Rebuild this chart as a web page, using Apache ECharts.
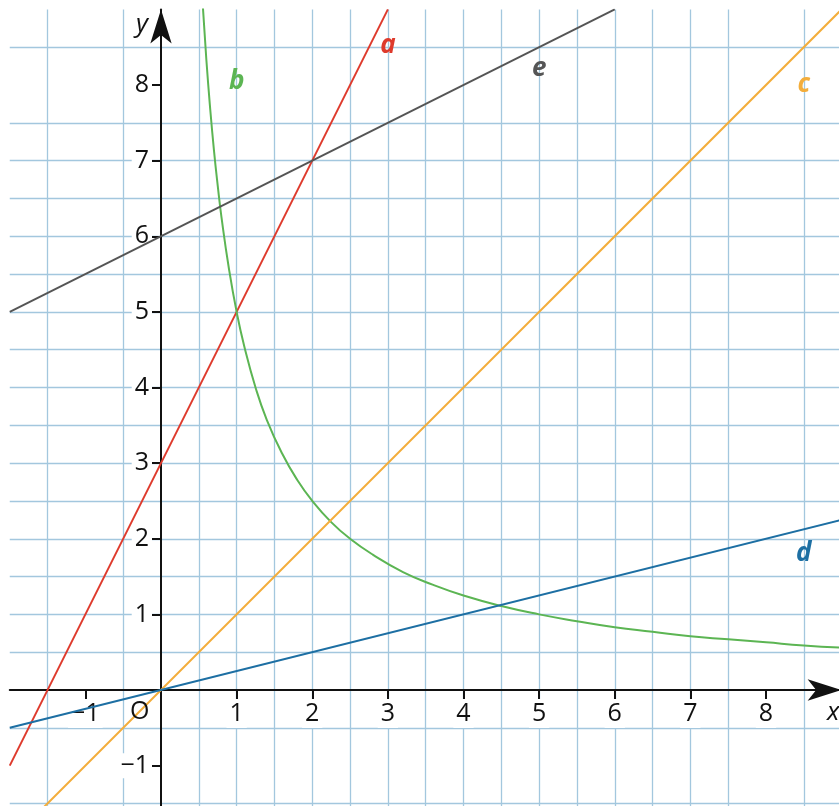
<!DOCTYPE html>
<html>
<head>
    <meta charset="utf-8">
    <title>Graphs a-e</title>
    <script src="https://cdn.jsdelivr.net/npm/echarts@6/dist/echarts.min.js"></script>
    <style>
        html, body { margin: 0; padding: 0; background: #fff; }
        #chart { width: 839px; height: 806px; }
    </style>
</head>
<body>
    <div id="chart"></div>
    <script>
        // values
        var xTicks = [-1, 1, 2, 3, 4, 5, 6, 7, 8];
        var yTicks = [-1, 1, 2, 3, 4, 5, 6, 7, 8];
        var lineA = [[-2, -1], [3, 9]];
        var lineC = [[-2, -2], [9, 9]];
        var lineD = [[-2, -0.5], [9, 2.25]];
        var lineE = [[-2, 5], [6, 9]];
        var curveB = [[0.55, 9.09], [0.6, 8.33], [0.65, 7.69], [0.7, 7.14], [0.75, 6.67], [0.8, 6.25],
                      [0.9, 5.56], [1, 5], [1.1, 4.55], [1.25, 4], [1.4, 3.57], [1.6, 3.13], [1.8, 2.78],
                      [2, 2.5], [2.25, 2.22], [2.5, 2], [2.8, 1.79], [3.2, 1.56], [3.6, 1.39], [4, 1.25],
                      [4.5, 1.11], [5, 1], [5.5, 0.91], [6, 0.83], [6.5, 0.77], [7, 0.71], [7.5, 0.67],
                      [8, 0.63], [8.5, 0.59], [9, 0.56]];
        var names = ['a', 'b', 'c', 'd', 'e'];
        var nameAt = [[3, 8.52], [1, 8.04], [8.5, 8.0], [8.5, 1.8], [5, 8.22]];
        var colors = ['#de3a2c', '#5cb553', '#f3ad3b', '#1d6fa3', '#555555'];

        var gridColor = '#a3c7de';
        var font = '"Open Sans", "Noto Sans", sans-serif';
        // 1 unit = 75.625 px, origin sits 2 units in from the left / bottom edge of the grid
        var unit = 75.625;

        function minus(v) { return v < 0 ? '\u2212' + (-v) : '' + v; }

        function axis(ticks, isX) {
            return {
                type: 'value', min: -2, max: 9, interval: 1,
                offset: -2 * unit,
                axisLine: { onZero: false, lineStyle: { color: '#111', width: 2 },
                            symbol: ['none', 'arrow'], symbolSize: [16, 34] },
                axisTick: { show: true, length: 9, lineStyle: { color: '#111', width: 2 },
                            customValues: ticks },
                axisLabel: { customValues: ticks, formatter: minus, color: '#111',
                             fontFamily: font, fontSize: 25, backgroundColor: '#fff',
                             padding: isX ? [2, 3, 2, 3] : [0, 3, 0, 3], margin: 9 },
                splitLine: { show: true, showMinLine: false, showMaxLine: false,
                             lineStyle: { color: gridColor, width: 1.3 } },
                minorTick: { show: false, splitNumber: 2 },
                minorSplitLine: { show: true, lineStyle: { color: gridColor, width: 1.3 } }
            };
        }

        function lineSeries(data, i, smooth) {
            return {
                type: 'line', data: data, symbol: 'none', smooth: smooth, z: 3,
                lineStyle: { color: colors[i], width: 2 },
                markPoint: {
                    symbolSize: 0, silent: true,
                    data: [{ coord: nameAt[i], value: names[i] }],
                    label: { show: true, formatter: names[i], color: colors[i],
                             fontFamily: font, fontSize: 26, fontWeight: 'bold', fontStyle: 'italic',
                             position: 'inside', align: 'center', verticalAlign: 'middle' }
                }
            };
        }

        var chart = echarts.init(document.getElementById('chart'));
        var option = {
            animation: false,
            backgroundColor: '#fff',
            grid: { left: 9.75, top: 9.375, width: 11 * unit, height: 11 * unit,
                    containLabel: false, outerBoundsMode: 'none' },
            xAxis: axis(xTicks, true),
            yAxis: axis(yTicks, false),
            series: [
                lineSeries(lineA, 0, false),
                lineSeries(curveB, 1, true),
                lineSeries(lineC, 2, false),
                lineSeries(lineD, 3, false),
                lineSeries(lineE, 4, false)
            ],
            graphic: [
                { type: 'text', left: 136, top: 12, z: 10,
                  style: { text: 'y', font: 'italic 26px ' + font, fill: '#111' } },
                { type: 'text', left: 827, top: 700, z: 10,
                  style: { text: 'x', font: 'italic 26px ' + font, fill: '#111' } },
                { type: 'text', left: 130, top: 699, z: 10,
                  style: { text: 'O', font: '25px ' + font, fill: '#111' } }
            ]
        };
        chart.setOption(option);
    </script>
</body>
</html>
